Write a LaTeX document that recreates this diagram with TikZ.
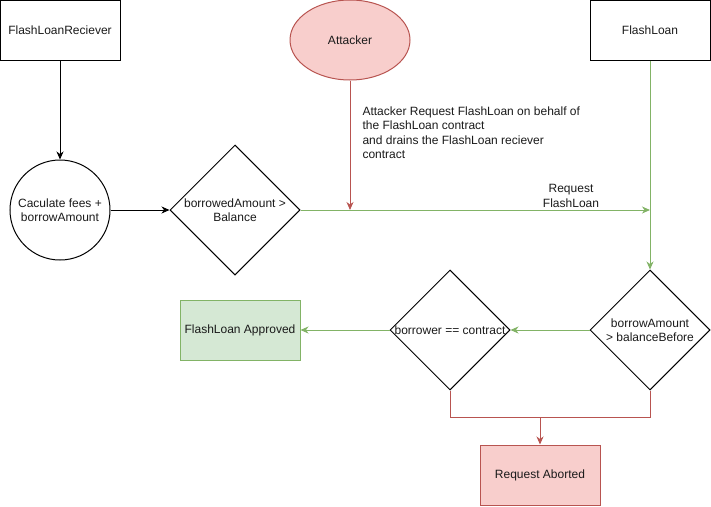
\documentclass[tikz,border=0pt]{standalone}
\usepackage{fontspec}
\setmainfont{Liberation Sans}
\usetikzlibrary{shapes.geometric,arrows.meta}
\definecolor{redfill}{HTML}{F8CECC}
\definecolor{redline}{HTML}{B85450}
\definecolor{greenfill}{HTML}{D5E8D4}
\definecolor{greenline}{HTML}{82B366}
\definecolor{txt}{HTML}{1A1A1A}
\begin{document}
\begin{tikzpicture}[x=1pt,y=-1pt,
  font=\fontsize{12}{14.5}\selectfont, text=txt, line width=1pt,
  box/.style={draw, rectangle, minimum width=120pt, minimum height=60pt, inner sep=0pt},
  dia/.style={draw, diamond, minimum width=#1, minimum height=#1, inner sep=0pt},
  arr/.style={-{Stealth[length=8pt,width=7pt,inset=2.5pt]}},
  lbl/.style={align=center, inner sep=0pt}]
\useasboundingbox (0,0) rectangle (711,506);

\node[box] (recv) at (60,30) {FlashLoanReciever};
\node[ellipse, draw=redline, fill=redfill, minimum width=120pt, minimum height=80pt, inner sep=0pt] (att) at (350,40) {Attacker};
\node[box] (fl) at (650,30) {FlashLoan};
\node[circle, draw, minimum size=100pt, inner sep=0pt, align=center] (calc) at (60,210) {Caculate fees +\\borrowAmount};
\node[dia=130pt] (d1) at (235,210) {};
\node[lbl] (d1t) at (d1.center) {borrowedAmount >\\Balance};
\node[dia=120pt] (d2) at (450,330) {};
\node[lbl] (d2t) at (d2.center) {borrower == contract};
\node[dia=120pt] (d3) at (650,330) {};
\node[lbl] (d3t) at (d3.center) {borrowAmount\\> balanceBefore};
\node[box, draw=greenline, fill=greenfill] (ok) at (240,330) {FlashLoan Approved};
\node[box, draw=redline, fill=redfill] (ab) at (540,475) {Request Aborted};

\coordinate (hit) at (350,210);
\coordinate (req) at (650,210);
\coordinate (join) at (540,417);

\draw[arr] (recv) -- (calc);
\draw[arr] (calc) -- (d1);
\draw[arr, greenline] (d1.east) -- (req);
\draw[arr, greenline] (fl) -- (d3);
\draw[arr, redline] (att) -- (hit);
\draw[arr, greenline] (d3) -- (d2);
\draw[arr, greenline] (d2) -- (ok);
\draw[redline] (d2.south) |- (join);
\draw[redline] (d3.south) |- (join);
\draw[arr, redline] (join) -- (ab);

\node[lbl] (reqt) at (571,196) {Request\\FlashLoan};
\node[align=left, inner sep=0pt, anchor=north west] (attt) at (362,106) {Attacker Request FlashLoan on behalf of\\the FlashLoan contract\\and drains the FlashLoan reciever\\contract};
\end{tikzpicture}
\end{document}
